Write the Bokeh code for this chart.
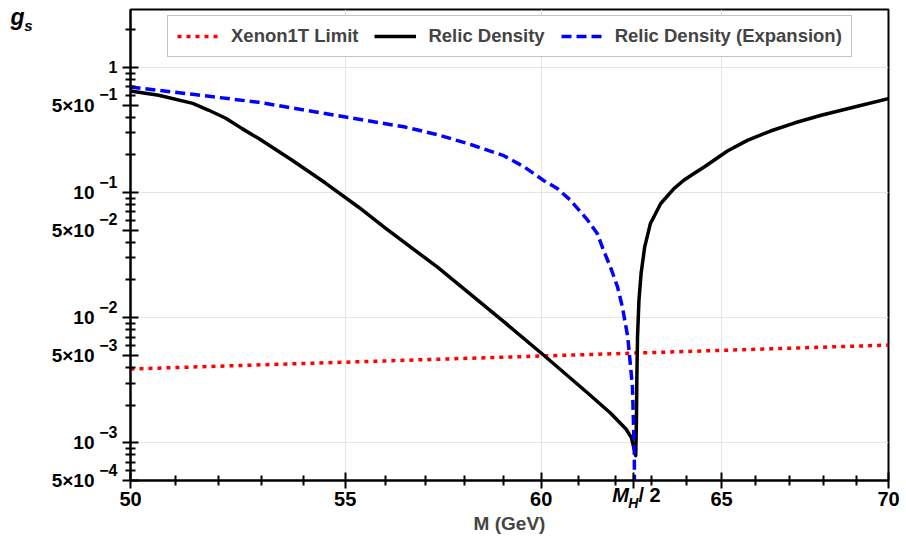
from bokeh.plotting import figure
from bokeh.models import FixedTicker, Legend, LegendItem, LogAxis
from bokeh.embed import file_html
from bokeh.resources import INLINE

# ---- data ----
xen_M = [50.0, 55.0, 60.0, 65.0, 70.0]
xen_g = [3.89e-3, 4.41e-3, 4.94e-3, 5.48e-3, 6.04e-3]

relic_M = [50.0, 50.63, 51.40, 51.77, 52.16, 52.54, 52.92, 53.72, 54.52, 55.33,
           55.99, 57.30, 59.01, 60.06, 61.25, 61.87, 62.30, 62.45, 62.57, 62.59,
           62.60, 62.62, 62.66, 62.72, 62.82, 62.98, 63.27, 63.64, 63.92, 64.21,
           64.50, 65.17, 65.75, 66.43, 67.13, 67.94, 68.95, 70.0]
relic_g = [0.647, 0.598, 0.516, 0.454, 0.392, 0.324, 0.271, 0.181, 0.119, 0.0763,
           0.0519, 0.0253, 0.0093, 0.00503, 0.0025, 0.00173, 0.00129, 0.0011, 0.00079, 0.0015,
           0.003, 0.007, 0.0138, 0.0226, 0.0368, 0.0566, 0.0817, 0.1076, 0.1254, 0.1419,
           0.160, 0.2148, 0.261, 0.310, 0.359, 0.414, 0.482, 0.563]

exp_M = [50.0, 51.40, 52.92, 55.63, 56.45, 57.30, 58.15, 59.01, 59.55, 60.06,
         60.43, 60.78, 61.25, 61.51, 61.68, 61.87, 62.07, 62.20, 62.35, 62.48,
         62.53, 62.54]
exp_g = [0.696, 0.609, 0.526, 0.371, 0.335, 0.290, 0.242, 0.197, 0.160, 0.125,
         0.1076, 0.0869, 0.0601, 0.0471, 0.0347, 0.0255, 0.0175, 0.0122, 0.0070, 0.00279,
         8.3e-4, 3e-4]

x_ticks = [50, 55, 60, 62.5, 65, 70]
x_tick_labels = ["50", "55", "60", "", "65", "70"]   # 62.5 = M_H/2, drawn in pieces below
x_minor = [51, 52, 53, 54, 56, 57, 58, 59, 61, 62, 63, 64, 66, 67, 68, 69]
mh2 = 62.5

y_ticks = [5e-4, 1e-3, 5e-3, 1e-2, 5e-2, 1e-1, 5e-1, 1.0]
y_tick_mant = ["5\u00d710", "10", "5\u00d710", "10", "5\u00d710", "10", "5\u00d710"]
y_tick_exp = ["\u22124\n", "\u22123\n", "\u22123\n", "\u22122\n", "\u22122\n", "\u22121\n", "\u22121\n", "1"]
y_minor = [6e-4, 7e-4, 8e-4, 9e-4, 2e-3, 3e-3, 4e-3, 6e-3, 7e-3, 8e-3, 9e-3,
           2e-2, 3e-2, 4e-2, 6e-2, 7e-2, 8e-2, 9e-2, 0.2, 0.3, 0.4, 0.6, 0.7, 0.8, 0.9, 2.0]

FONT = "Liberation Sans"
X_LO, X_HI = 50, 70
Y_LO, Y_TOP = 5e-4, 2.9
FRAME_W = 758  # px


def shift_x(x, px):
    """data value that lies px pixels right of x on the log x scale"""
    return x * (X_HI / X_LO) ** (px / FRAME_W)


p = figure(width=900, height=545, x_axis_type="log", y_axis_type="log",
           x_range=(X_LO, X_HI), y_range=(Y_LO, Y_TOP),
           x_axis_location=None, y_axis_location=None,
           output_backend="svg", toolbar_location=None,
           min_border_left=130, min_border_right=12, min_border_top=9, min_border_bottom=65)

p.outline_line_color = "black"
p.outline_line_width = 2
p.background_fill_color = "white"
p.border_fill_color = "white"


def text_axis(ticks, labels, size, style, standoff):
    ax = LogAxis(ticker=FixedTicker(ticks=ticks, minor_ticks=[]))
    ax.major_label_overrides = dict(zip(ticks, labels))
    ax.major_label_text_font = FONT
    ax.major_label_text_font_style = style
    ax.major_label_text_font_size = size
    ax.major_label_text_color = "black"
    ax.major_label_standoff = standoff
    ax.axis_line_color = None
    ax.major_tick_line_color = None
    ax.minor_tick_line_color = None
    ax.major_tick_in = 0
    ax.major_tick_out = 0
    ax.minor_tick_in = 0
    ax.minor_tick_out = 0
    return ax


def style_main(ax):
    ax.axis_line_width = 2
    ax.major_tick_line_width = 2
    ax.minor_tick_line_width = 2
    ax.major_tick_in = 8
    ax.major_tick_out = 8
    ax.minor_tick_in = 5
    ax.minor_tick_out = 5
    ax.major_label_text_font = FONT
    ax.major_label_text_font_style = "bold"
    ax.major_label_text_color = "black"


# ---- x axes (stacked below the frame) ----
xa = LogAxis(ticker=FixedTicker(ticks=x_ticks, minor_ticks=x_minor))
style_main(xa)
xa.major_label_overrides = dict(zip(x_ticks, x_tick_labels))
xa.major_label_text_font_size = "20px"
xa.major_label_standoff = 3
p.add_layout(xa, "below")

m_tick = shift_x(mh2, -12.7)
sl_tick = shift_x(mh2, 16.4)
p.add_layout(text_axis([m_tick], ["M"], "20px", "bold italic", -25), "below")
p.add_layout(text_axis([sl_tick], ["/ 2"], "20px", "bold", -25), "below")
p.add_layout(text_axis([mh2], ["H"], "14px", "bold italic", -14), "below")

xd = text_axis([], [], "20px", "bold", 0)
xd.axis_label = "M (GeV)"
xd.axis_label_text_font = FONT
xd.axis_label_text_font_style = "bold"
xd.axis_label_text_font_size = "19px"
xd.axis_label_standoff = -1
p.add_layout(xd, "below")

# ---- y axes (stacked left of the frame) ----
ya = LogAxis(ticker=FixedTicker(ticks=y_ticks, minor_ticks=y_minor))
style_main(ya)
ya.major_label_overrides = dict(zip(y_ticks, y_tick_exp))
ya.major_label_text_font_size = "16px"
ya.major_label_standoff = 5
p.add_layout(ya, "left")

p.add_layout(text_axis(y_ticks[:-1], y_tick_mant, "19px", "bold", 2), "left")
p.add_layout(text_axis([Y_TOP * 0.99], ["g"], "23px", "bold italic", 24), "left")
p.add_layout(text_axis([Y_TOP * 0.746], ["s"], "15px", "bold italic", -25), "left")

# ---- curves ----
r_xen = p.line(xen_M, xen_g, line_color="red", line_width=3.5, line_dash="4 5")
r_rel = p.line(relic_M, relic_g, line_color="black", line_width=3.5, line_join="round")
r_exp = p.line(exp_M, exp_g, line_color="blue", line_width=3.5, line_dash="10 5")

legend = Legend(items=[LegendItem(label="Xenon1T Limit", renderers=[r_xen]),
                       LegendItem(label="Relic Density", renderers=[r_rel]),
                       LegendItem(label="Relic Density (Expansion)", renderers=[r_exp])],
                orientation="horizontal", location=(37, 423),
                glyph_width=42, glyph_height=20, label_height=22, label_standoff=12, spacing=16,
                padding=9, margin=0,
                label_text_font=FONT, label_text_font_style="bold", label_text_font_size="18.5px",
                border_line_color="#888888", border_line_width=1.5,
                background_fill_alpha=1.0)
p.add_layout(legend, "center")

open("out.html", "w").write(file_html(p, INLINE))
